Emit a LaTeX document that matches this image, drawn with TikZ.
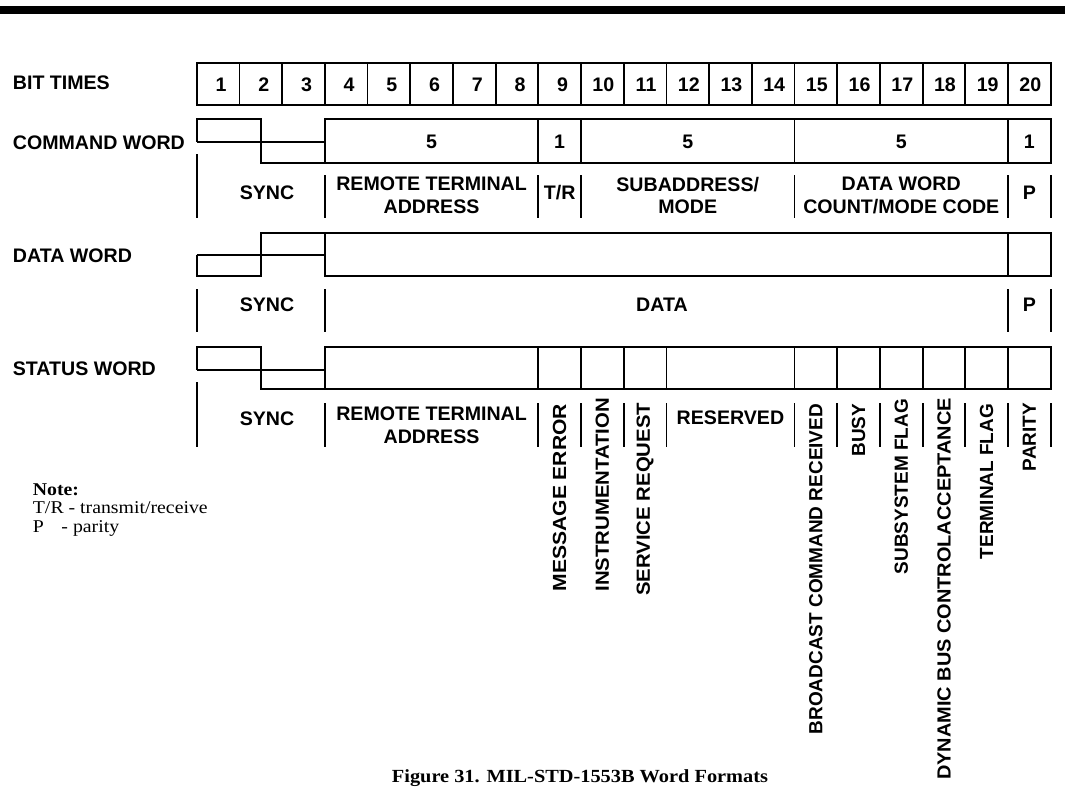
\documentclass[tikz,border=0pt]{standalone}
\usepackage{fontspec}
\setmainfont{Liberation Sans}
\newfontfamily\seriffont{Liberation Serif}
\usepackage{graphicx}
\begin{document}
\begin{tikzpicture}[x=1pt,y=-1pt,line width=1.8pt,
  lbl/.style={font=\bfseries\fontsize{19.6}{22.5}\selectfont,inner sep=0pt,align=center},
  num/.style={lbl,anchor=base},
  side/.style={lbl,anchor=west},
  vlbl/.style={font=\bfseries\fontsize{19}{22}\selectfont,inner sep=0pt,rotate=90,anchor=east},
  bar/.style={line width=1.8pt},
  wire/.style={line width=1.8pt,line join=miter},
  note/.style={font=\seriffont\fontsize{18}{18}\selectfont,inner sep=0pt,anchor=base west},
  caption/.style={font=\seriffont\bfseries\fontsize{18.5}{18.5}\selectfont,inner sep=0pt,anchor=base}]
\useasboundingbox (0,0) rectangle (1065,792);
% top rule
\fill (0,6) rectangle (1065,14);
% bit boundaries
\def\bw{42.7}
\def\bz{196.7}
\pgfmathsetmacro{\bA}{\bz+3*\bw}
\pgfmathsetmacro{\bS}{\bz+1.5*\bw}
\pgfmathsetmacro{\bE}{\bz+20*\bw}
% ---------- left labels
\node[side] (lbit) at (12,83) {BIT TIMES};
\node[side] (lcmd) at (12,143) {COMMAND WORD};
\node[side] (ldat) at (12,256) {DATA WORD};
\node[side] (lsta) at (12,369) {STATUS WORD};
% ---------- bit times row
\draw[wire] (\bz,63.3) rectangle (\bE,105);
\foreach \k in {1,...,19} \draw (\bz+\k*\bw,63.3) -- (\bz+\k*\bw,105);
\foreach \i in {1,...,9} \node[num] (bit\i) at ({\bz+(\i-0.5)*\bw+3},91.5) {\i};
\foreach \i in {10,...,20} \node[num] (bit\i) at ({\bz+(\i-0.5)*\bw+1},91.5) {\i};
% ---------- command word
\draw[wire] (\bz,141.7) -- (\bz,119.3) -- (\bS,119.3) -- (\bS,162.7) -- (\bE,162.7) -- (\bE,119.3) -- (\bA,119.3) -- (\bA,162.7);
\draw (\bz,141.7) -- (\bA,141.7);
\foreach \k in {8,9,14,19} \draw (\bz+\k*\bw,119.3) -- (\bz+\k*\bw,162.7);
\node[num] (c1) at ({\bz+5.5*\bw},148) {5};
\node[num] (c2) at ({\bz+8.5*\bw},148) {1};
\node[num] (c3) at ({\bz+11.5*\bw},148) {5};
\node[num] (c4) at ({\bz+16.5*\bw},148) {5};
\node[num] (c5) at ({\bz+19.5*\bw},148) {1};
% command labels
\draw[bar] (\bz,154) -- (\bz,218);
\foreach \k in {3,8,9,14,19,20} \draw[bar] (\bz+\k*\bw,175) -- (\bz+\k*\bw,218);
\node[lbl] (cs) at (267,193) {SYNC};
\node[lbl] (crt) at ({\bz+5.5*\bw},195.5) {REMOTE TERMINAL\\ADDRESS};
\node[lbl] (ctr) at ({\bz+8.5*\bw},193) {T/R};
\node[lbl] (csa) at ({\bz+11.5*\bw},195.5) {SUBADDRESS/\\MODE};
\node[lbl] (cdw) at ({\bz+16.5*\bw},195.5) {DATA WORD\\COUNT/MODE CODE};
\node[lbl] (cp) at ({\bz+19.5*\bw},193) {P};
% ---------- data word
\draw[wire] (\bz,255) -- (\bz,276) -- (\bS,276) -- (\bS,233.3) -- (\bE,233.3) -- (\bE,276) -- (\bA,276) -- (\bA,233.3);
\draw (\bz,255) -- (\bA,255);
\draw (\bz+19*\bw,233.3) -- (\bz+19*\bw,276);
\foreach \k in {0,3,19,20} \draw[bar] (\bz+\k*\bw,289) -- (\bz+\k*\bw,332);
\node[lbl] (ds) at (267,305) {SYNC};
\node[lbl] (dd) at (662,305) {DATA};
\node[lbl] (dp) at ({\bz+19.5*\bw},305) {P};
% ---------- status word
\draw[wire] (\bz,370) -- (\bz,347.3) -- (\bS,347.3) -- (\bS,389) -- (\bE,389) -- (\bE,347.3) -- (\bA,347.3) -- (\bA,389);
\draw (\bz,370) -- (\bA,370);
\foreach \k in {8,9,10,11,14,15,16,17,18,19} \draw (\bz+\k*\bw,347.3) -- (\bz+\k*\bw,389);
\draw[bar] (\bz,382) -- (\bz,447);
\foreach \k in {3,8,9,10,11,14,15,16,17,18,19,20} \draw[bar] (\bz+\k*\bw,403) -- (\bz+\k*\bw,447);
\node[lbl] (ss) at (267,419) {SYNC};
\node[lbl] (srt) at ({\bz+5.5*\bw},425) {REMOTE TERMINAL\\ADDRESS};
\node[lbl] (sres) at ({\bz+12.5*\bw},418) {RESERVED};
\node[vlbl] (sme) at ({\bz+8.5*\bw},403) {\scalebox{1.11}[1]{MESSAGE ERROR}};
\node[vlbl] (sin) at ({\bz+9.5*\bw},397) {\scalebox{1.07}[1]{INSTRUMENTATION}};
\node[vlbl] (ssr) at ({\bz+10.5*\bw},402) {\scalebox{1.07}[1]{SERVICE REQUEST}};
\node[vlbl] (sbc) at ({\bz+14.5*\bw},403) {BROADCAST COMMAND RECEIVED};
\node[vlbl] (sbu) at ({\bz+15.5*\bw},403) {BUSY};
\node[vlbl] (ssf) at ({\bz+16.5*\bw},398) {SUBSYSTEM FLAG};
\node[vlbl] (sdb) at ({\bz+17.5*\bw},397) {\scalebox{1.05}[1]{DYNAMIC BUS CONTROLACCEPTANCE}};
\node[vlbl] (stf) at ({\bz+18.5*\bw},403) {TERMINAL FLAG};
\node[vlbl] (spa) at ({\bz+19.5*\bw},402) {PARITY};
% ---------- note
\node[note] (n1) at (32,495) {\scalebox{1.1}[1]{\bfseries Note:}};
\node[note] (n2) at (32,513) {\scalebox{1.1}[1]{T/R - transmit/receive}};
\node[note] (n3) at (32,532) {\scalebox{1.1}[1]{P\hspace{16pt}- parity}};
% ---------- caption
\node[caption] (cap) at (580,782) {\scalebox{1.1}[1]{Figure 31. MIL-STD-1553B Word Formats}};
\end{tikzpicture}
\end{document}
